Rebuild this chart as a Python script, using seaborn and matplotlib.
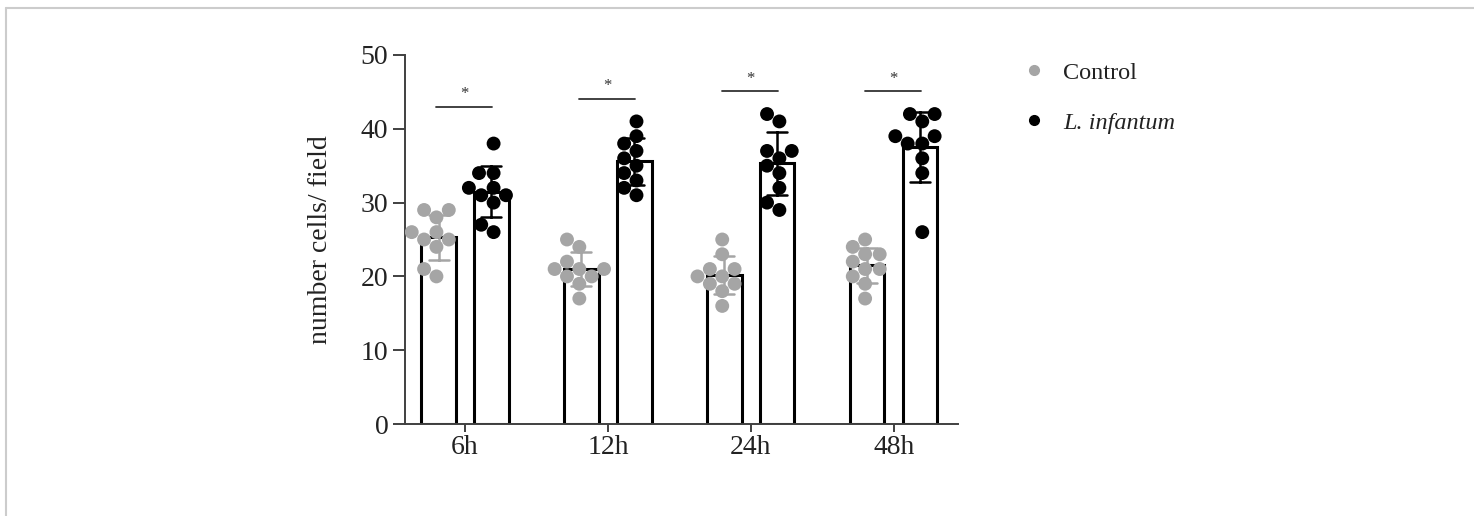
import numpy as np
import pandas as pd
import matplotlib
matplotlib.use("Agg")
import matplotlib.pyplot as plt
from matplotlib.lines import Line2D
import seaborn as sns

# ---- data ----
times = ["6h", "12h", "24h", "48h"]
groups = ["Control", "L. infantum"]
control_6h = [29, 29, 28, 26, 26, 25, 25, 24, 21, 20]
infected_6h = [38, 34, 34, 32, 32, 31, 31, 30, 27, 26]
control_12h = [25, 24, 22, 21, 21, 21, 20, 20, 19, 17]
infected_12h = [41, 39, 38, 37, 36, 35, 34, 33, 32, 31]
control_24h = [25, 23, 21, 21, 20, 20, 19, 19, 18, 16]
infected_24h = [42, 41, 37, 37, 36, 35, 34, 32, 30, 29]
control_48h = [25, 24, 23, 23, 22, 21, 21, 20, 19, 17]
infected_48h = [42, 42, 41, 39, 39, 38, 38, 36, 34, 26]
sig_labels = ["*", "*", "*", "*"]
y_ticks = [0, 10, 20, 30, 40, 50]

series = {
    ("6h", "Control"): control_6h, ("6h", "L. infantum"): infected_6h,
    ("12h", "Control"): control_12h, ("12h", "L. infantum"): infected_12h,
    ("24h", "Control"): control_24h, ("24h", "L. infantum"): infected_24h,
    ("48h", "Control"): control_48h, ("48h", "L. infantum"): infected_48h,
}
rows = []
for (t, g), vals in series.items():
    for v in vals:
        rows.append({"time": t, "group": g, "value": v})
df = pd.DataFrame(rows)

# ---- style ----
sns.set_theme(style="ticks")
plt.rcParams["font.family"] = ["Liberation Serif", "DejaVu Serif"]
FS = 20
gray = "#a5a5a5"
axis_col = "#404040"

fig = plt.figure(figsize=(14.74, 5.16), dpi=100)
ax = fig.add_axes([405 / 1474, 1 - 424 / 516, (958 - 405) / 1474, (424 - 55) / 516])

sns.barplot(data=df, x="time", y="value", hue="group", order=times, hue_order=groups,
            palette={"Control": "white", "L. infantum": "white"},
            width=0.74, gap=0.35, edgecolor="black", linewidth=2.2,
            errorbar="sd", capsize=0.28, err_kws={"linewidth": 1.8, "color": "black"},
            legend=False, ax=ax, zorder=2)

# recolor control error bars gray (lines may contain NaN separators)
for ln in list(ax.lines):
    xd = np.asarray(ln.get_xdata(), dtype=float)
    if xd.size == 0 or np.all(np.isnan(xd)):
        continue
    xm = np.nanmean(xd)
    if xm - np.round(xm) < 0:
        ln.set_color(gray)
    ln.set_zorder(4)

sns.swarmplot(data=df, x="time", y="value", hue="group", order=times, hue_order=groups,
              palette={"Control": gray, "L. infantum": "black"}, dodge=True,
              size=10, linewidth=0, legend=False, ax=ax, zorder=3)

# significance bars
for i, t in enumerate(times):
    c = df[(df.time == t) & (df.group == "L. infantum")]["value"]
    top = max(43.0, c.max() + 3.1)
    ax.plot([i - 0.2, i + 0.19], [top, top], color="#333333", lw=1.3, clip_on=False, zorder=5)
    ax.text(i - 0.005, top + 0.6, sig_labels[i], ha="center", va="bottom", fontsize=12, color="#333333")

ax.set_xlim(-0.42, 3.45)
ax.set_ylim(0, 50)
ax.set_yticks(y_ticks)
ax.set_xlabel("")
ax.set_ylabel("number cells/ field", fontsize=FS, color="#222222", labelpad=20)
ax.tick_params(axis="both", labelsize=FS, colors=axis_col, labelcolor="#222222", width=1.4)
ax.tick_params(axis="y", length=9, pad=3)
ax.tick_params(axis="x", length=6, pad=2)
for s in ["top", "right"]:
    ax.spines[s].set_visible(False)
for s in ["left", "bottom"]:
    ax.spines[s].set_color(axis_col)
    ax.spines[s].set_linewidth(1.4)

handles = [Line2D([], [], marker="o", linestyle="none", color=gray, markersize=7),
           Line2D([], [], marker="o", linestyle="none", color="black", markersize=7)]
leg = ax.legend(handles, groups, loc="upper left", bbox_to_anchor=(1000 / 1474, 1 - 40 / 516),
                bbox_transform=fig.transFigure, frameon=False, fontsize=17.5,
                handletextpad=0.7, labelspacing=1.15, handlelength=1.0)
for txt in leg.get_texts():
    txt.set_color("#222222")
leg.get_texts()[1].set_fontstyle("italic")

# figure border (top and left)
fig.add_artist(Line2D([6 / 1474, 1], [1 - 8 / 516, 1 - 8 / 516], transform=fig.transFigure,
                      color="#cccccc", lw=1.5))
fig.add_artist(Line2D([6 / 1474, 6 / 1474], [0, 1 - 8 / 516], transform=fig.transFigure,
                      color="#cccccc", lw=1.5))

fig.savefig("out.png", dpi=100)
